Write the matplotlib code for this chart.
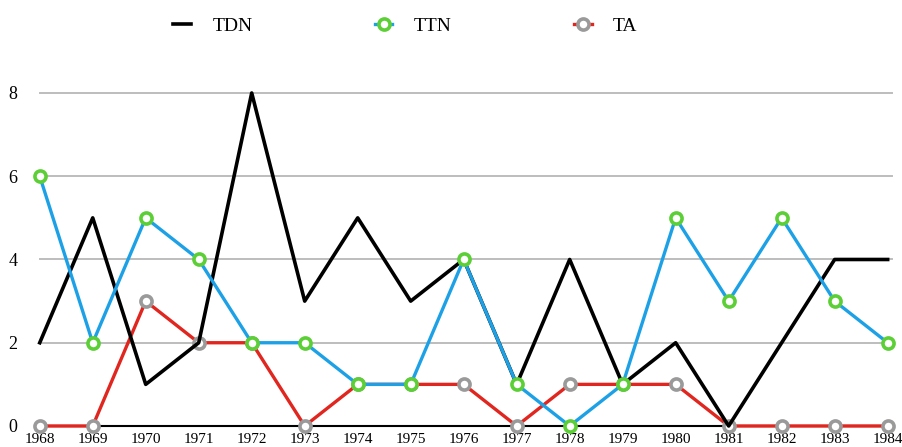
import matplotlib
matplotlib.use("Agg")
import matplotlib.pyplot as plt

# --- data ---
years = [1968, 1969, 1970, 1971, 1972, 1973, 1974, 1975, 1976,
         1977, 1978, 1979, 1980, 1981, 1982, 1983, 1984]
tdn = [2, 5, 1, 2, 8, 3, 5, 3, 4, 1, 4, 1, 2, 0, 2, 4, 4]
ttn = [6, 2, 5, 4, 2, 2, 1, 1, 4, 1, 0, 1, 5, 3, 5, 3, 2]
ta = [0, 0, 3, 2, 2, 0, 1, 1, 1, 0, 1, 1, 1, 0, 0, 0, 0]
y_ticks = [0, 2, 4, 6, 8]

plt.rcParams['font.family'] = ['Liberation Serif', 'DejaVu Serif']

fig = plt.figure(figsize=(9.03, 4.47), dpi=100)
ax = fig.add_axes([0.044, 0.047, 0.939, 0.745])

# red line with grey hollow markers
ax.plot(years, ta, color='#e0261e', lw=2.4, marker='o', ms=8,
        mfc='white', mec='#9a9a9a', mew=2.6, clip_on=False, zorder=3, label='TA')
# black line, no markers
ax.plot(years, tdn, color='black', lw=2.6, clip_on=False, zorder=4, label='TDN')
# blue line with green hollow markers
ax.plot(years, ttn, color='#1da1e6', lw=2.4, marker='o', ms=8,
        mfc='white', mec='#5ccf36', mew=2.6, clip_on=False, zorder=5, label='TTN')

ax.set_xlim(years[0], years[-1])
ax.set_ylim(0, 8)
ax.set_xticks(years)
ax.set_xticklabels([str(y) for y in years], fontsize=11)
ax.set_yticks(y_ticks)
ax.set_yticklabels([str(v) for v in y_ticks], fontsize=13)
ax.tick_params(axis='x', length=0, pad=5)
ax.tick_params(axis='y', length=0, pad=16)

for v in y_ticks[1:]:
    ax.axhline(v, xmin=0, xmax=1.005, color='#bdbdbd', lw=1.4, zorder=1, clip_on=False)

for s in ['top', 'right', 'left']:
    ax.spines[s].set_visible(False)
ax.spines['bottom'].set_color('black')
ax.spines['bottom'].set_linewidth(1.5)

h, l = ax.get_legend_handles_labels()
order = [1, 2, 0]
fig.legend([h[i] for i in order], [l[i] for i in order], loc='upper center',
           bbox_to_anchor=(0.449, 1.0), ncol=3, frameon=False, fontsize=14,
           handlelength=0.9, columnspacing=6.3, handletextpad=1.1)

fig.savefig("out.png", dpi=100)
